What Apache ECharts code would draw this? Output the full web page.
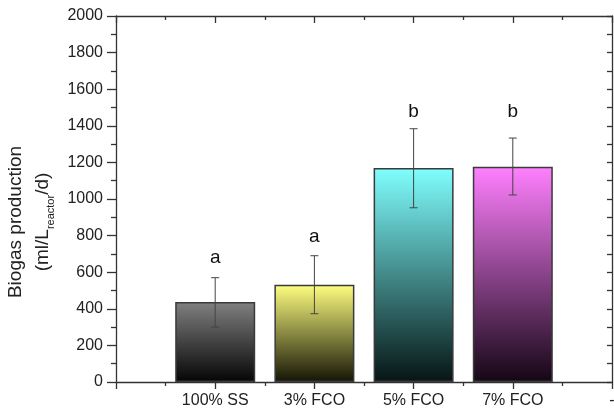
<!DOCTYPE html>
<html>
<head>
<meta charset="utf-8">
<script src="https://cdn.jsdelivr.net/npm/echarts@6/dist/echarts.min.js"></script>
<style>
  html, body { margin: 0; padding: 0; background: #fff; }
  #main { width: 614px; height: 412px; }
</style>
</head>
<body>
<div id="main"></div>
<script>
// data
const groups = ['100% SS', '3% FCO', '5% FCO', '7% FCO']
const xTickLabels = ['', '100% SS', '3% FCO', '5% FCO', '7% FCO', '-']
const biogas = [437, 532, 1170, 1176]
const errLow = [300, 373, 952, 1022]
const errHigh = [570, 690, 1384, 1333]
const letters = ['a', 'a', 'b', 'b']
const letterAt = [678, 792, 1475, 1475]
const topColors = ['#808080', '#ffff80', '#80ffff', '#ff80ff']
const bottomColors = ['#050505', '#141405', '#061414', '#140614']

const font = '"Liberation Sans", Arial, sans-serif'
const axisColor = '#333'

let chart = echarts.init(document.getElementById('main'))

let barData = biogas.map(function (v, i) {
  return {
    value: [i + 1, v],
    itemStyle: {
      color: new echarts.graphic.LinearGradient(0, 0, 0, 1, [
        { offset: 0, color: topColors[i] },
        { offset: 1, color: bottomColors[i] }
      ])
    }
  }
})

let errData = groups.map(function (g, i) {
  return [i + 1, errLow[i], errHigh[i], letterAt[i], letters[i]]
})

let xCommon = {
  type: 'value',
  min: 0,
  max: 5,
  interval: 1,
  axisLine: { show: true, onZero: false, lineStyle: { color: axisColor, width: 1.3 } },
  splitLine: { show: false },
  minorTick: { show: true, splitNumber: 2, length: 4, lineStyle: { color: axisColor, width: 1.3 } }
}

let option = {
  animation: false,
  backgroundColor: '#fff',
  grid: { left: 116, right: 2, top: 16, bottom: 30, containLabel: false, outerBoundsMode: 'none' },
  xAxis: [
    Object.assign({}, xCommon, {
      position: 'bottom',
      axisTick: { show: true, length: 7, lineStyle: { color: axisColor, width: 1.3 } },
      axisLabel: {
        show: true,
        margin: 11,
        fontFamily: font,
        fontSize: 16,
        color: '#222',
        showMinLabel: true,
        showMaxLabel: true,
        formatter: function (v) { return xTickLabels[Math.round(v)] }
      }
    }),
    Object.assign({}, xCommon, {
      position: 'top',
      axisTick: { show: true, inside: true, length: 7, lineStyle: { color: axisColor, width: 1.3 } },
      axisLabel: { show: false }
    })
  ],
  yAxis: [
    {
      type: 'value',
      position: 'left',
      min: 0,
      max: 2000,
      interval: 200,
      axisLine: { show: true, onZero: false, lineStyle: { color: axisColor, width: 1.3 } },
      axisTick: { show: true, length: 9, lineStyle: { color: axisColor, width: 1.3 } },
      minorTick: { show: true, splitNumber: 2, length: 5, lineStyle: { color: axisColor, width: 1.3 } },
      splitLine: { show: false },
      axisLabel: {
        margin: 13,
        fontFamily: font,
        fontSize: 16,
        color: '#222',
        formatter: function (v) { return String(v) }
      },
      name: '{t|Biogas production}\n{t|(ml/L}{s|reactor}{t|/d)}',
      nameLocation: 'middle',
      nameRotate: 90,
      nameGap: 59,
      nameTextStyle: {
        padding: [0, 46, 0, 0],
        rich: {
          t: { fontFamily: font, fontSize: 19, color: '#222', lineHeight: 27 },
          s: { fontFamily: font, fontSize: 11, color: '#222', lineHeight: 27, verticalAlign: 'bottom', padding: [6, 0, 0, 0] }
        }
      }
    },
    {
      type: 'value',
      position: 'right',
      min: 0,
      max: 2000,
      interval: 100,
      axisLine: { show: true, onZero: false, lineStyle: { color: axisColor, width: 1.3 } },
      axisTick: { show: true, inside: true, length: 5, lineStyle: { color: axisColor, width: 1.3 } },
      splitLine: { show: false },
      axisLabel: { show: false }
    }
  ],
  series: [
    {
      type: 'bar',
      xAxisIndex: 0,
      yAxisIndex: 0,
      barWidth: 80,
      itemStyle: { borderColor: '#3a3a3a', borderWidth: 1.5 },
      data: barData
    },
    {
      type: 'custom',
      xAxisIndex: 0,
      yAxisIndex: 0,
      encode: { x: 0, y: [1, 2] },
      data: errData,
      z: 5,
      renderItem: function (params, api) {
        let x = api.value(0)
        let lo = api.coord([x, api.value(1)])
        let hi = api.coord([x, api.value(2)])
        let lt = api.coord([x, api.value(3)])
        let cap = 4
        let style = { stroke: '#444', lineWidth: 1 }
        return {
          type: 'group',
          children: [
            { type: 'line', shape: { x1: hi[0], y1: hi[1], x2: lo[0], y2: lo[1] }, style: style },
            { type: 'line', shape: { x1: hi[0] - cap, y1: hi[1], x2: hi[0] + cap, y2: hi[1] }, style: style },
            { type: 'line', shape: { x1: lo[0] - cap, y1: lo[1], x2: lo[0] + cap, y2: lo[1] }, style: style },
            {
              type: 'text',
              x: lt[0],
              y: lt[1],
              style: {
                text: api.value(4),
                fontFamily: font,
                fontSize: 19,
                fill: '#111',
                align: 'center',
                verticalAlign: 'middle'
              }
            }
          ]
        }
      }
    }
  ]
}

chart.setOption(option)
</script>
</body>
</html>
